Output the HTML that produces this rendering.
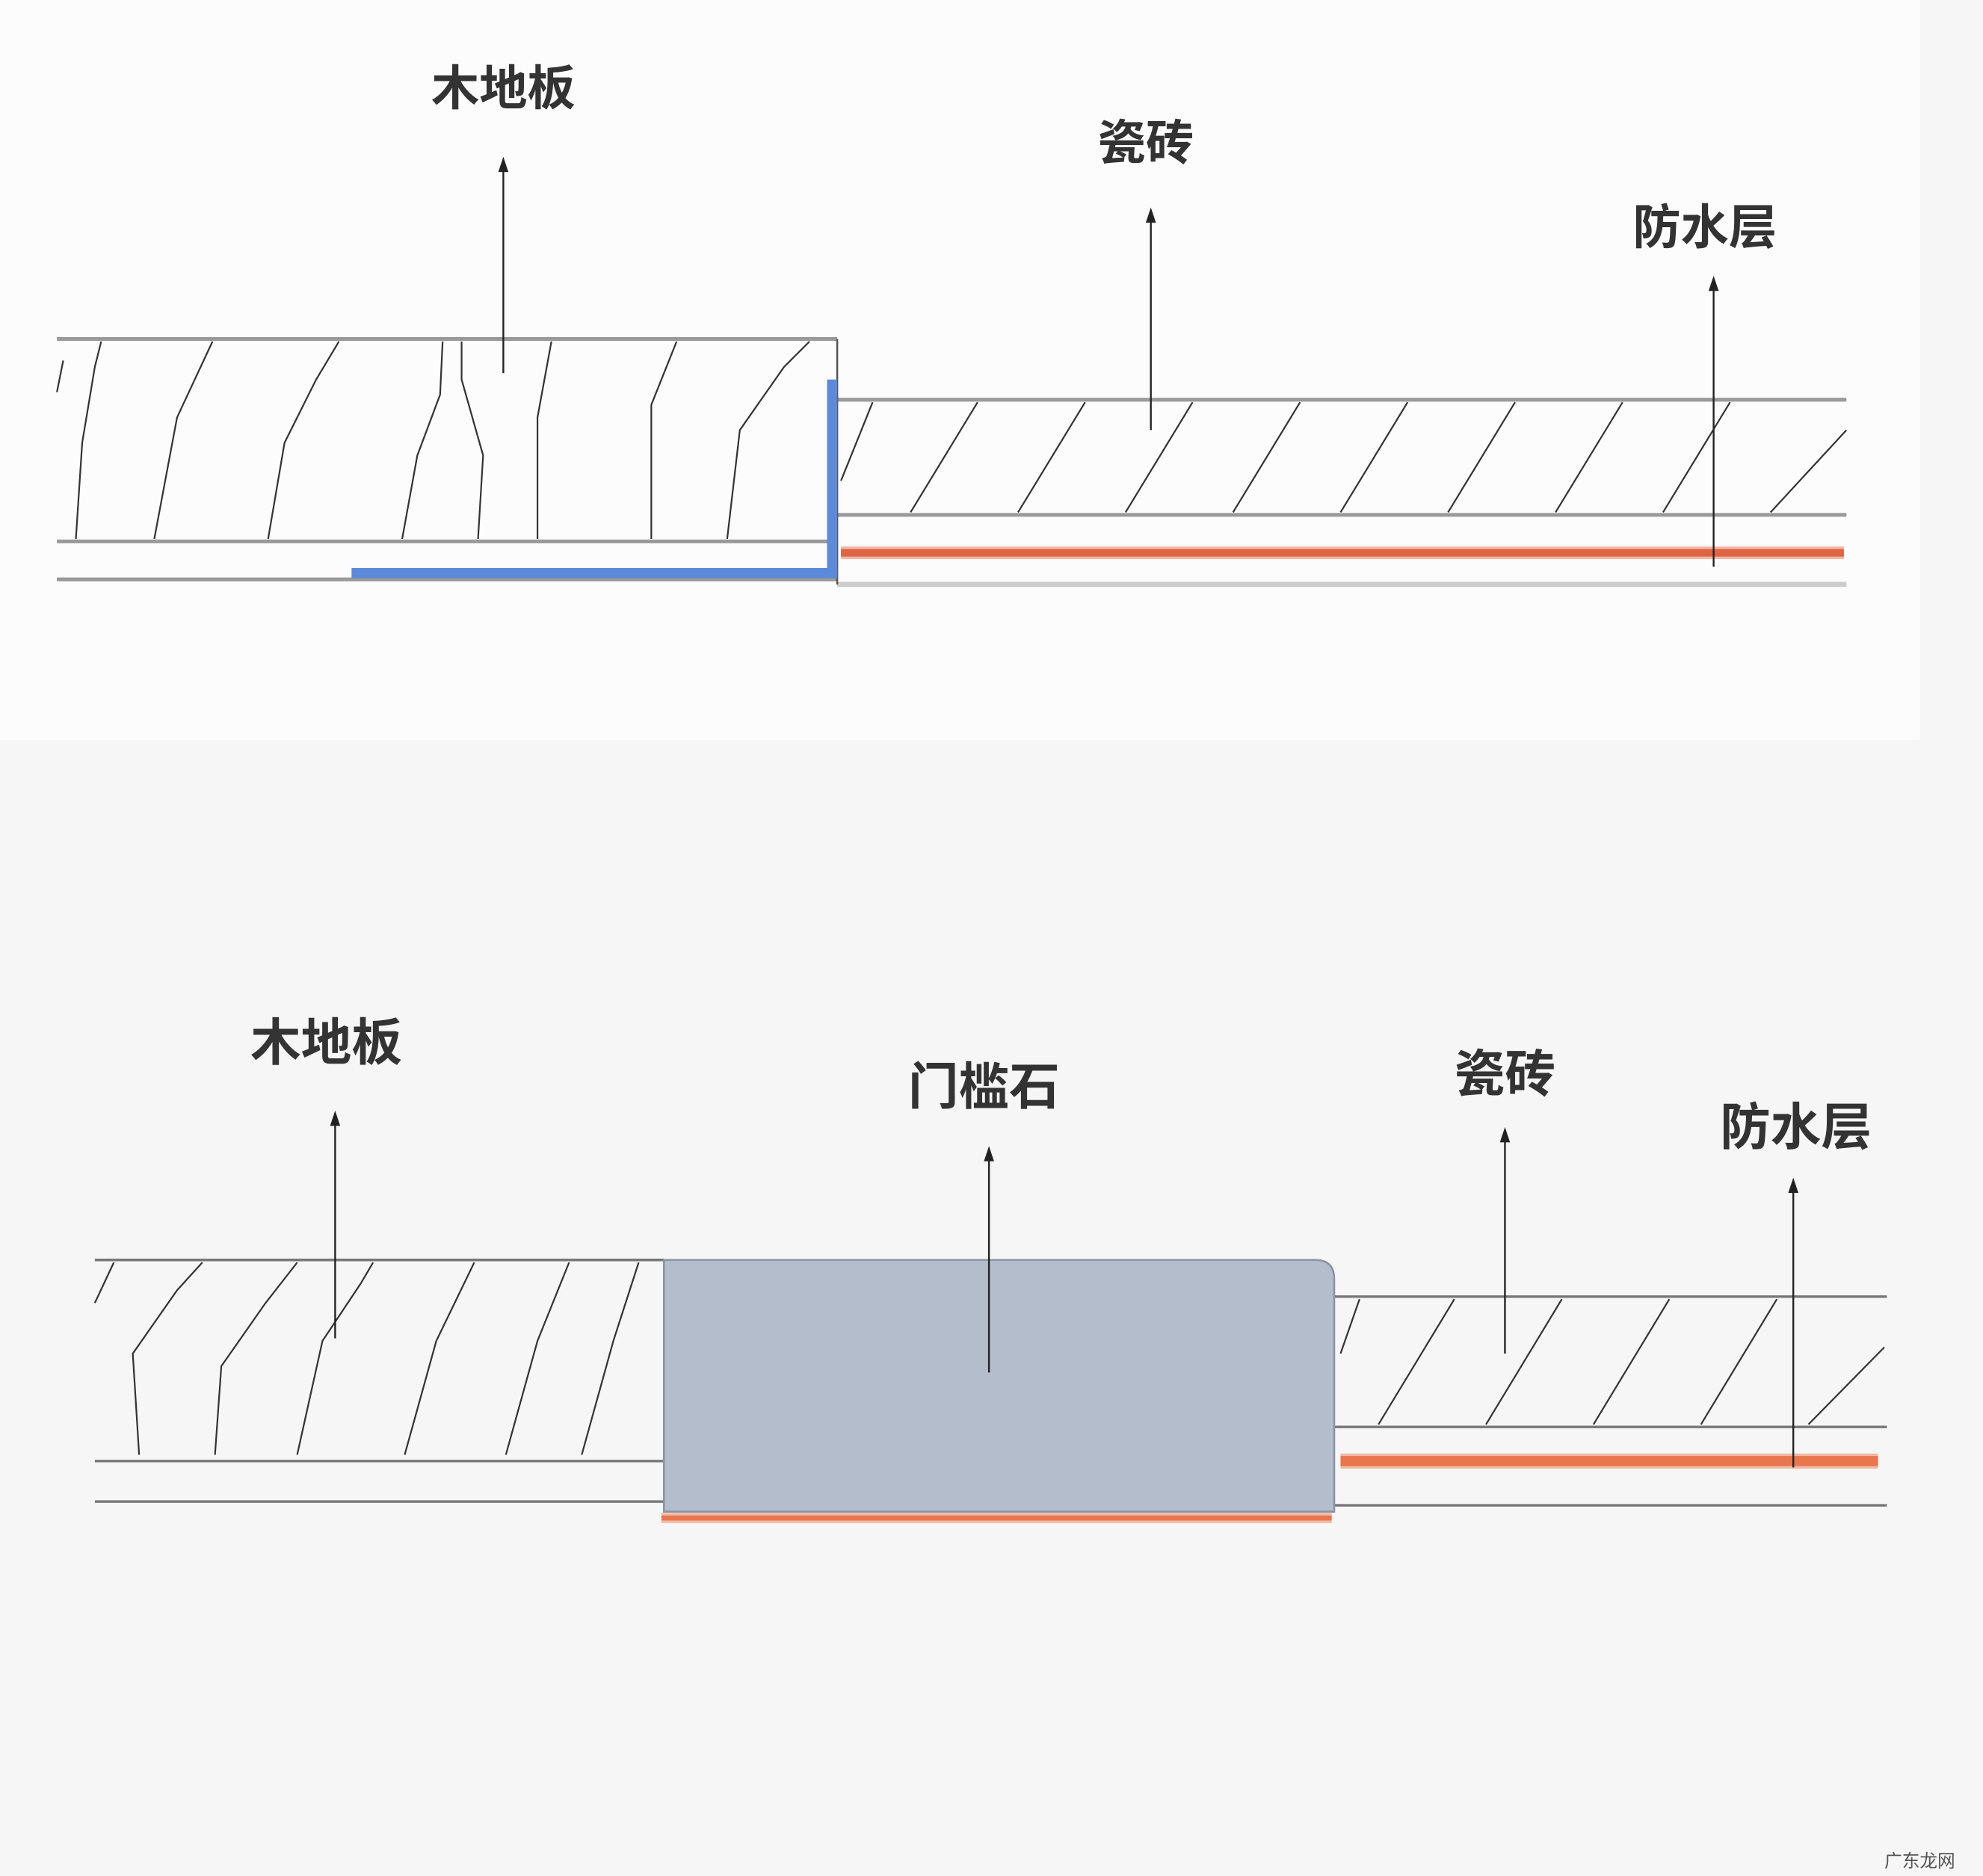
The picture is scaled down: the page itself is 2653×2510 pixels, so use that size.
<!DOCTYPE html>
<html><head><meta charset="utf-8"><style>
html,body{margin:0;padding:0;background:#f6f6f6;}
svg{display:block;}
text{font-family:"Liberation Sans","Noto Sans CJK SC",sans-serif;fill:#333;text-anchor:middle;font-weight:bold;}
</style></head><body>
<svg width="2653" height="2510" viewBox="0 0 1568 1483" preserveAspectRatio="none" xmlns="http://www.w3.org/2000/svg">
<rect x="0" y="0" width="1568" height="1483" fill="#f6f6f6"/>
<rect x="0" y="0" width="1518" height="585" fill="#fcfcfc"/>

<!-- TOP DIAGRAM -->
<g stroke="#999" stroke-width="3" fill="none">
<line x1="45" y1="268" x2="662" y2="268"/>
<line x1="45" y1="428" x2="662" y2="428"/>
<line x1="45" y1="458" x2="662" y2="458"/>
<line x1="662" y1="316" x2="1460" y2="316"/>
<line x1="662" y1="407" x2="1460" y2="407"/>
<line x1="662" y1="462" x2="1460" y2="462" stroke="#ccc" stroke-width="4"/>
</g>
<line x1="662" y1="268" x2="662" y2="462" stroke="#555" stroke-width="1.5"/>
<g stroke="#333" stroke-width="1.3" fill="none">
<path d="M45,310 L50,285"/>
<path d="M60,426 L65,350 L75,290 L80,270"/>
<path d="M122,426 L140,330 L168,270"/>
<path d="M212,426 L225,350 L250,300 L268,270"/>
<path d="M318,426 L330,360 L348,312 L350,270"/>
<path d="M378,426 L382,360 L365,300 L365,270"/>
<path d="M425,426 L425,330 L436,270"/>
<path d="M515,426 L515,320 L535,270"/>
<path d="M575,426 L585,340 L620,290 L640,270"/>
<path d="M665,380 L690,318"/>
</g>
<g stroke="#333" stroke-width="1.3">
<line x1="720" y1="405" x2="773" y2="318"/>
<line x1="805" y1="405" x2="858" y2="318"/>
<line x1="890" y1="405" x2="943" y2="318"/>
<line x1="975" y1="405" x2="1028" y2="318"/>
<line x1="1060" y1="405" x2="1113" y2="318"/>
<line x1="1145" y1="405" x2="1198" y2="318"/>
<line x1="1230" y1="405" x2="1283" y2="318"/>
<line x1="1315" y1="405" x2="1368" y2="318"/>
<line x1="1400" y1="405" x2="1460" y2="340"/>
</g>
<rect x="278" y="449" width="384" height="8" fill="#5b8ad8"/>
<rect x="654" y="300" width="8" height="157" fill="#5b8ad8"/>
<rect x="665" y="432" width="793" height="10" fill="#f1b8a6"/>
<rect x="665" y="434" width="793" height="6" fill="#de6446"/>
<g stroke="#222" stroke-width="1.4">
<line x1="398" y1="295" x2="398" y2="132"/>
<line x1="910" y1="340" x2="910" y2="172"/>
<line x1="1355" y1="448" x2="1355" y2="226"/>
</g>
<g fill="#222">
<polygon points="394,136 398,124 402,136"/>
<polygon points="906,176 910,164 914,176"/>
<polygon points="1351,230 1355,218 1359,230"/>
</g>
<text x="398" y="83" font-size="38">木地板</text>
<text x="906" y="126" font-size="38">瓷砖</text>
<text x="1348" y="193" font-size="38">防水层</text>

<!-- BOTTOM DIAGRAM -->
<g stroke="#777" stroke-width="2" fill="none">
<line x1="75" y1="996" x2="525" y2="996"/>
<line x1="75" y1="1155" x2="525" y2="1155"/>
<line x1="75" y1="1187" x2="525" y2="1187"/>
<line x1="1055" y1="1025" x2="1492" y2="1025"/>
<line x1="1055" y1="1128" x2="1492" y2="1128"/>
<line x1="1055" y1="1190" x2="1492" y2="1190"/>
</g>
<g stroke="#333" stroke-width="1.3" fill="none">
<path d="M75,1030 L90,998"/>
<path d="M110,1150 L105,1070 L140,1020 L160,998"/>
<path d="M170,1150 L175,1080 L210,1030 L235,998"/>
<path d="M235,1150 L255,1060 L285,1015 L295,998"/>
<path d="M320,1150 L345,1060 L375,998"/>
<path d="M400,1150 L425,1060 L450,998"/>
<path d="M460,1150 L485,1060 L505,998"/>
<path d="M1060,1070 L1075,1027"/>
</g>
<g stroke="#333" stroke-width="1.3">
<line x1="1090" y1="1126" x2="1150" y2="1027"/>
<line x1="1175" y1="1126" x2="1235" y2="1027"/>
<line x1="1260" y1="1126" x2="1320" y2="1027"/>
<line x1="1345" y1="1126" x2="1405" y2="1027"/>
<line x1="1430" y1="1126" x2="1490" y2="1065"/>
</g>
<path d="M525,996 L1040,996 Q1055,996 1055,1011 L1055,1195 L525,1195 Z" fill="#b4bdcc" stroke="#8a93a2" stroke-width="1.5"/>
<rect x="523" y="1196" width="530" height="8" fill="#f2b9a4"/>
<rect x="523" y="1198" width="530" height="4" fill="#e8774f"/>
<rect x="1060" y="1149" width="425" height="12" fill="#f2b9a4"/>
<rect x="1060" y="1151" width="425" height="8" fill="#e8774f"/>
<g stroke="#222" stroke-width="1.4">
<line x1="265" y1="1058" x2="265" y2="886"/>
<line x1="782" y1="1085" x2="782" y2="914"/>
<line x1="1190" y1="1070" x2="1190" y2="899"/>
<line x1="1418" y1="1160" x2="1418" y2="939"/>
</g>
<g fill="#222">
<polygon points="261,890 265,878 269,890"/>
<polygon points="778,918 782,906 786,918"/>
<polygon points="1186,903 1190,891 1194,903"/>
<polygon points="1414,943 1418,931 1422,943"/>
</g>
<text x="258" y="838" font-size="40">木地板</text>
<text x="778" y="873" font-size="40">门槛石</text>
<text x="1190" y="863" font-size="40">瓷砖</text>
<text x="1420" y="905" font-size="40">防水层</text>

<text x="1518" y="1476" font-size="14" style="fill:#555;font-weight:normal">广东龙网</text>
</svg>
</body></html>
